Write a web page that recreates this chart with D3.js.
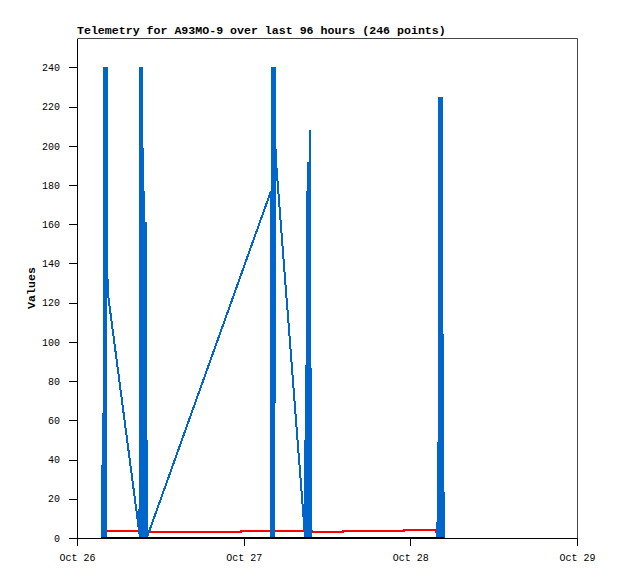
<!DOCTYPE html>
<html>
<head>
<meta charset="utf-8">
<script src="https://cdn.jsdelivr.net/npm/d3@7"></script>
<style>
  body { margin: 0; background: #fff; }
  text { font-family: "Liberation Mono", "DejaVu Sans Mono", monospace; }
</style>
</head>
<body>
<svg id="chart"></svg>
<script>
// hours after Oct 26 00:00 (UTC)
const blueHours = [
  3.62, 3.68, 3.74, 3.80, 3.86, 3.92, 3.98, 4.04, 4.10, 4.16, 4.22, 4.28, 4.40,
  9.00, 9.06, 9.12, 9.18, 9.24, 9.30, 9.36, 9.42, 9.50, 9.60, 9.68, 9.76, 9.84, 9.92, 10.05,
  27.94, 28.00, 28.06, 28.12, 28.18, 28.26, 28.34, 28.42, 28.50, 28.62, 28.72,
  32.85, 32.95, 33.02, 33.10, 33.20, 33.32, 33.42, 33.55, 33.68,
  51.85, 51.90, 51.96, 52.04, 52.12, 52.20, 52.28, 52.36, 52.44, 52.52, 52.60, 52.70, 52.80
];
const blueValues = [
  0, 41, 0, 64, 0, 240, 0, 240, 0, 240, 0, 240, 126,
  2, 240, 0, 225, 0, 240, 0, 240, 0, 177, 0, 141, 0, 161, 0,
  177, 0, 240, 0, 208, 0, 240, 0, 240, 182, 189,
  0, 88, 0, 177, 0, 192, 0, 208, 0,
  0, 8, 0, 49, 0, 225, 0, 225, 0, 225, 0, 104, 0
];

const redHours = [3.46, 10.0, 14.7, 23.6, 33.8, 38.3, 47.1, 51.7, 51.9];
const redValues = [3.6, 2.9, 3.2, 3.7, 2.9, 3.4, 3.9, 2.9, 2.9];

const zeroHours = [3.46, 52.85];
const zeroValues = [0, 0];

const yTicks = [0, 20, 40, 60, 80, 100, 120, 140, 160, 180, 200, 220, 240];
const title = "Telemetry for A93MO-9 over last 96 hours (246 points)";

const t0 = Date.UTC(2023, 9, 26);
const toDate = h => new Date(t0 + h * 3600e3);

const W = 618, H = 579;
const margin = {top: 38, right: 41, bottom: 41, left: 77};
const w = W - margin.left - margin.right;
const h = H - margin.top - margin.bottom;

const svg = d3.select("#chart").attr("width", W).attr("height", H);

const x = d3.scaleUtc()
  .domain([new Date(t0), new Date(Date.UTC(2023, 9, 29))])
  .range([0, w]);
const y = d3.scaleLinear().domain([0, 255]).range([h, 0]);

const g = svg.append("g").attr("transform", `translate(${margin.left},${margin.top})`);

g.append("clipPath").attr("id", "clip")
  .append("rect").attr("width", w).attr("height", h + 2).attr("y", -1);

// frame top/right
g.append("path")
  .attr("d", `M0.5,0.5H${w + 0.5}V${h}`)
  .attr("fill", "none")
  .attr("stroke", "#444");

const line = d3.line()
  .x(d => x(toDate(d[0])))
  .y(d => y(d[1]));

const plot = g.append("g").attr("clip-path", "url(#clip)");

plot.append("path")
  .datum(d3.zip(redHours, redValues))
  .attr("d", line.curve(d3.curveStepAfter))
  .attr("fill", "none")
  .attr("stroke", "#ff0000")
  .attr("stroke-width", 2)
  .attr("shape-rendering", "crispEdges");

plot.append("path")
  .datum(d3.zip(blueHours, blueValues))
  .attr("d", line.curve(d3.curveLinear))
  .attr("fill", "none")
  .attr("stroke", "#0066cc")
  .attr("stroke-width", 2)
  .attr("stroke-linejoin", "bevel")
  .attr("shape-rendering", "crispEdges");

plot.append("path")
  .datum(d3.zip(zeroHours, zeroValues))
  .attr("d", line.curve(d3.curveLinear))
  .attr("fill", "none")
  .attr("stroke", "#000")
  .attr("stroke-width", 2)
  .attr("shape-rendering", "crispEdges");

// axes
const yAxis = g.append("g")
  .call(d3.axisLeft(y).tickValues(yTicks).tickSize(8).tickPadding(9).tickSizeOuter(0));
const xAxis = g.append("g")
  .attr("transform", `translate(0,${h})`)
  .call(d3.axisBottom(x).ticks(d3.utcDay.every(1)).tickFormat(d3.utcFormat("%b %d"))
    .tickSize(8).tickPadding(8).tickSizeOuter(0));

[yAxis, xAxis].forEach(a => {
  a.selectAll("text").attr("font-family", "Liberation Mono, monospace")
    .attr("font-size", 10).attr("fill", "#000");
  a.selectAll("line, path").attr("stroke", "#000").attr("shape-rendering", "crispEdges");
});

svg.append("text")
  .attr("x", margin.left)
  .attr("y", 34)
  .attr("font-size", 11.6)
  .attr("font-weight", "bold")
  .text(title);

svg.append("text")
  .attr("transform", `translate(35,${margin.top + h / 2}) rotate(-90)`)
  .attr("text-anchor", "middle")
  .attr("font-size", 11.6)
  .attr("font-weight", "bold")
  .text("Values");
</script>
</body>
</html>
